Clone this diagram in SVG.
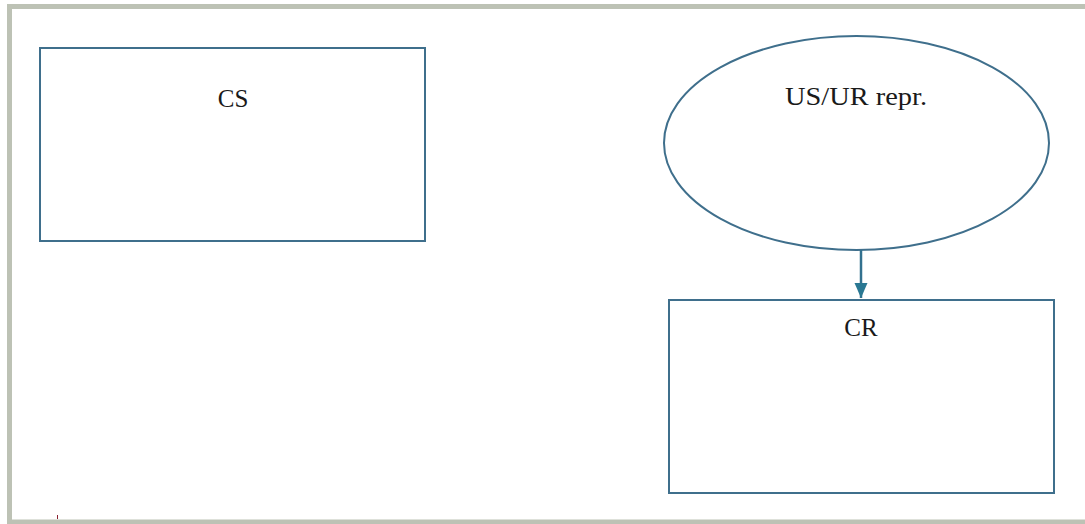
<svg xmlns="http://www.w3.org/2000/svg" width="1085" height="524" viewBox="0 0 1085 524">
  <style>
    .box { fill: #ffffff; stroke: #3f6f8c; stroke-width: 2; }
    .lbl { font-family: "Liberation Serif", "DejaVu Serif", serif; font-size: 25px; fill: #1a1a1a; text-anchor: middle; }
    .conn { stroke: #33718f; stroke-width: 2.5; fill: none; }
  </style>
  <defs>
    <marker id="arrow" markerWidth="6" markerHeight="6" refX="6" refY="3" orient="auto" markerUnits="strokeWidth">
      <path d="M0,0.4 L6,3 L0,5.6 Z" fill="#2a7893"/>
    </marker>
  </defs>
  <rect x="0" y="0" width="1085" height="524" fill="#ffffff"/>
  <rect x="9.5" y="6.5" width="1100" height="515.5" fill="none" stroke="#bdc2b5" stroke-width="5"/>
  <g id="node-cs">
    <rect class="box" x="40" y="48" width="385" height="193"/>
    <text class="lbl" x="233" y="107">CS</text>
  </g>
  <g id="node-usur">
    <ellipse class="box" cx="856.5" cy="143" rx="192.5" ry="107"/>
    <text class="lbl" x="856" y="105" textLength="142" lengthAdjust="spacingAndGlyphs">US/UR repr.</text>
  </g>
  <g id="node-cr">
    <rect class="box" x="669" y="300" width="385" height="193"/>
    <text class="lbl" x="861" y="336">CR</text>
  </g>
  <g id="connectors">
    <line class="conn" x1="861" y1="250" x2="861" y2="298" marker-end="url(#arrow)"/>
  </g>
  <line x1="57.5" y1="515" x2="57.5" y2="519" stroke="#8a2030" stroke-width="1"/>
</svg>
